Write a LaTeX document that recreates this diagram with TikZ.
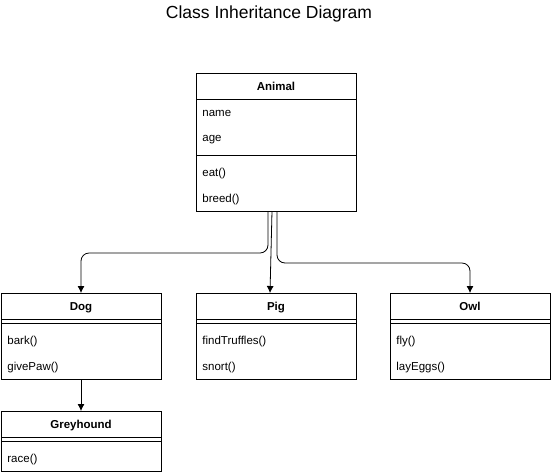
\documentclass[tikz,border=0pt]{standalone}
\usepackage{fontspec}
\setmainfont{Liberation Sans}
\usetikzlibrary{arrows.meta,positioning}

\begin{document}
\begin{tikzpicture}[x=1pt,y=-1pt,line width=0.8pt,>={Latex[length=7pt,width=7pt]}]
        \tikzstyle{classbox}=[rectangle, draw=black, fill=white, minimum width=160pt, inner sep=0pt, outer sep=0pt, anchor=north west]
        \tikzstyle{head}=[rectangle, draw=black, minimum width=160pt, minimum height=26pt, text height=10pt, text depth=1pt, inner sep=0pt, outer sep=0pt, anchor=north, font=\fontsize{11.5}{13}\selectfont\bfseries]
        \tikzstyle{member}=[anchor=west, inner sep=0pt, yshift=-1.5pt, font=\fontsize{11.5}{13}\selectfont]
        \useasboundingbox (0,0) rectangle (551,475);
        \node [font=\fontsize{17.5}{20}\selectfont] (title) at (269,14) {Class Inheritance Diagram};
        % base class
        \node [classbox, minimum height=138pt] (animal) at (196,73) {};
        \node [head] (animal-h) at (animal.north) {Animal};
        \draw (animal.west |- 0,155) -- (animal.east |- 0,155);
        \node [member] (animal-1) at ([xshift=6pt]animal.west |- 0,112) {name};
        \node [member] (animal-2) at ([xshift=6pt]animal.west |- 0,138) {age};
        \node [member] (animal-3) at ([xshift=6pt]animal.west |- 0,172) {eat()};
        \node [member] (animal-4) at ([xshift=6pt]animal.west |- 0,198) {breed()};
        % sub classes
        \foreach \n/\t/\x/\a/\b in {dog/Dog/1/bark()/givePaw(), pig/Pig/196/findTruffles()/snort(), owl/Owl/390/fly()/layEggs()}
        {
          \node [classbox, minimum height=86pt] (\n) at (\x,293) {};
          \node [head] (\n-h) at (\n.north) {\t};
          \draw (\n.west |- 0,323) -- (\n.east |- 0,323);
          \node [member] (\n-1) at ([xshift=6pt]\n.west |- 0,340) {\a};
          \node [member] (\n-2) at ([xshift=6pt]\n.west |- 0,366) {\b};
        }
        \node [classbox, minimum height=60pt] (grey) at (1,411) {};
        \node [head] (grey-h) at (grey.north) {Greyhound};
        \draw (grey.west |- 0,441) -- (grey.east |- 0,441);
        \node [member] (grey-1) at ([xshift=6pt]grey.west |- 0,458) {race()};
        % inheritance
        \begin{scope}[rounded corners=8pt]
          \draw[->] ([xshift=-8pt]animal.south) -- ++(0,42) -| (dog.north);
          \draw[->] ([xshift=-4pt]animal.south) -- ([xshift=-6pt]pig.north);
          \draw[->] ([xshift=1pt]animal.south) -- ++(0,52) -| (owl.north);
          \draw[->] (dog.south) -- (grey.north);
        \end{scope}
      \end{tikzpicture}
\end{document}
